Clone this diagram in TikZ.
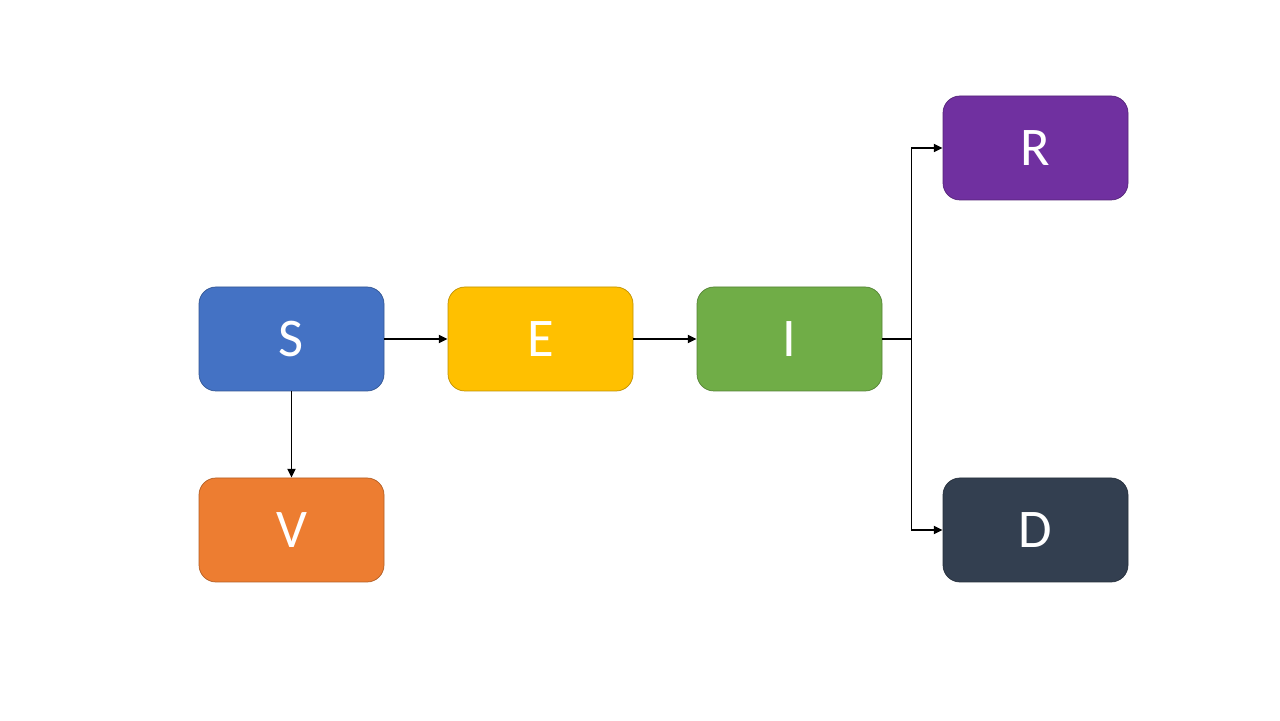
\documentclass[tikz,border=0pt]{standalone}
\usepackage{fontspec}
\setmainfont{Carlito}
\usepackage{tikz}
\usetikzlibrary{arrows.meta}

\definecolor{sblue}{HTML}{4472C4}
\definecolor{egold}{HTML}{FFC000}
\definecolor{igreen}{HTML}{70AD47}
\definecolor{rpurple}{HTML}{7030A0}
\definecolor{dslate}{HTML}{333F50}
\definecolor{vorange}{HTML}{ED7D31}

\begin{document}
\begin{tikzpicture}[
  every node/.style={rectangle, rounded corners=0.34cm, minimum width=3.7cm, minimum height=2.08cm, text=white, font=\fontsize{31}{36}\selectfont, line width=0.4pt},
  state/.style={fill=#1, draw=#1!75!black},
  flow/.style={-{Triangle[length=5pt,width=4.5pt]}, line width=1.1pt}
]
\useasboundingbox (0,0) rectangle (25.6,14.4);
\node[state=sblue] (S) at (5.83,7.62) {S};
\node[state=egold] (E) at (10.81,7.62) {E};
\node[state=igreen] (I) at (15.79,7.62) {I};
\node[state=rpurple] (R) at (20.71,11.44) {R};
\node[state=dslate] (D) at (20.71,3.8) {D};
\node[state=vorange] (V) at (5.83,3.8) {V};
\coordinate (split) at (18.23,7.62);
\draw[flow] (S) -- (E);
\draw[flow] (E) -- (I);
\draw[flow] (S) -- (V);
\draw[line width=1.3pt] (I.east) -- (split);
\draw[flow] (split) |- (R.west);
\draw[flow] (split) |- (D.west);
\end{tikzpicture}
\end{document}
